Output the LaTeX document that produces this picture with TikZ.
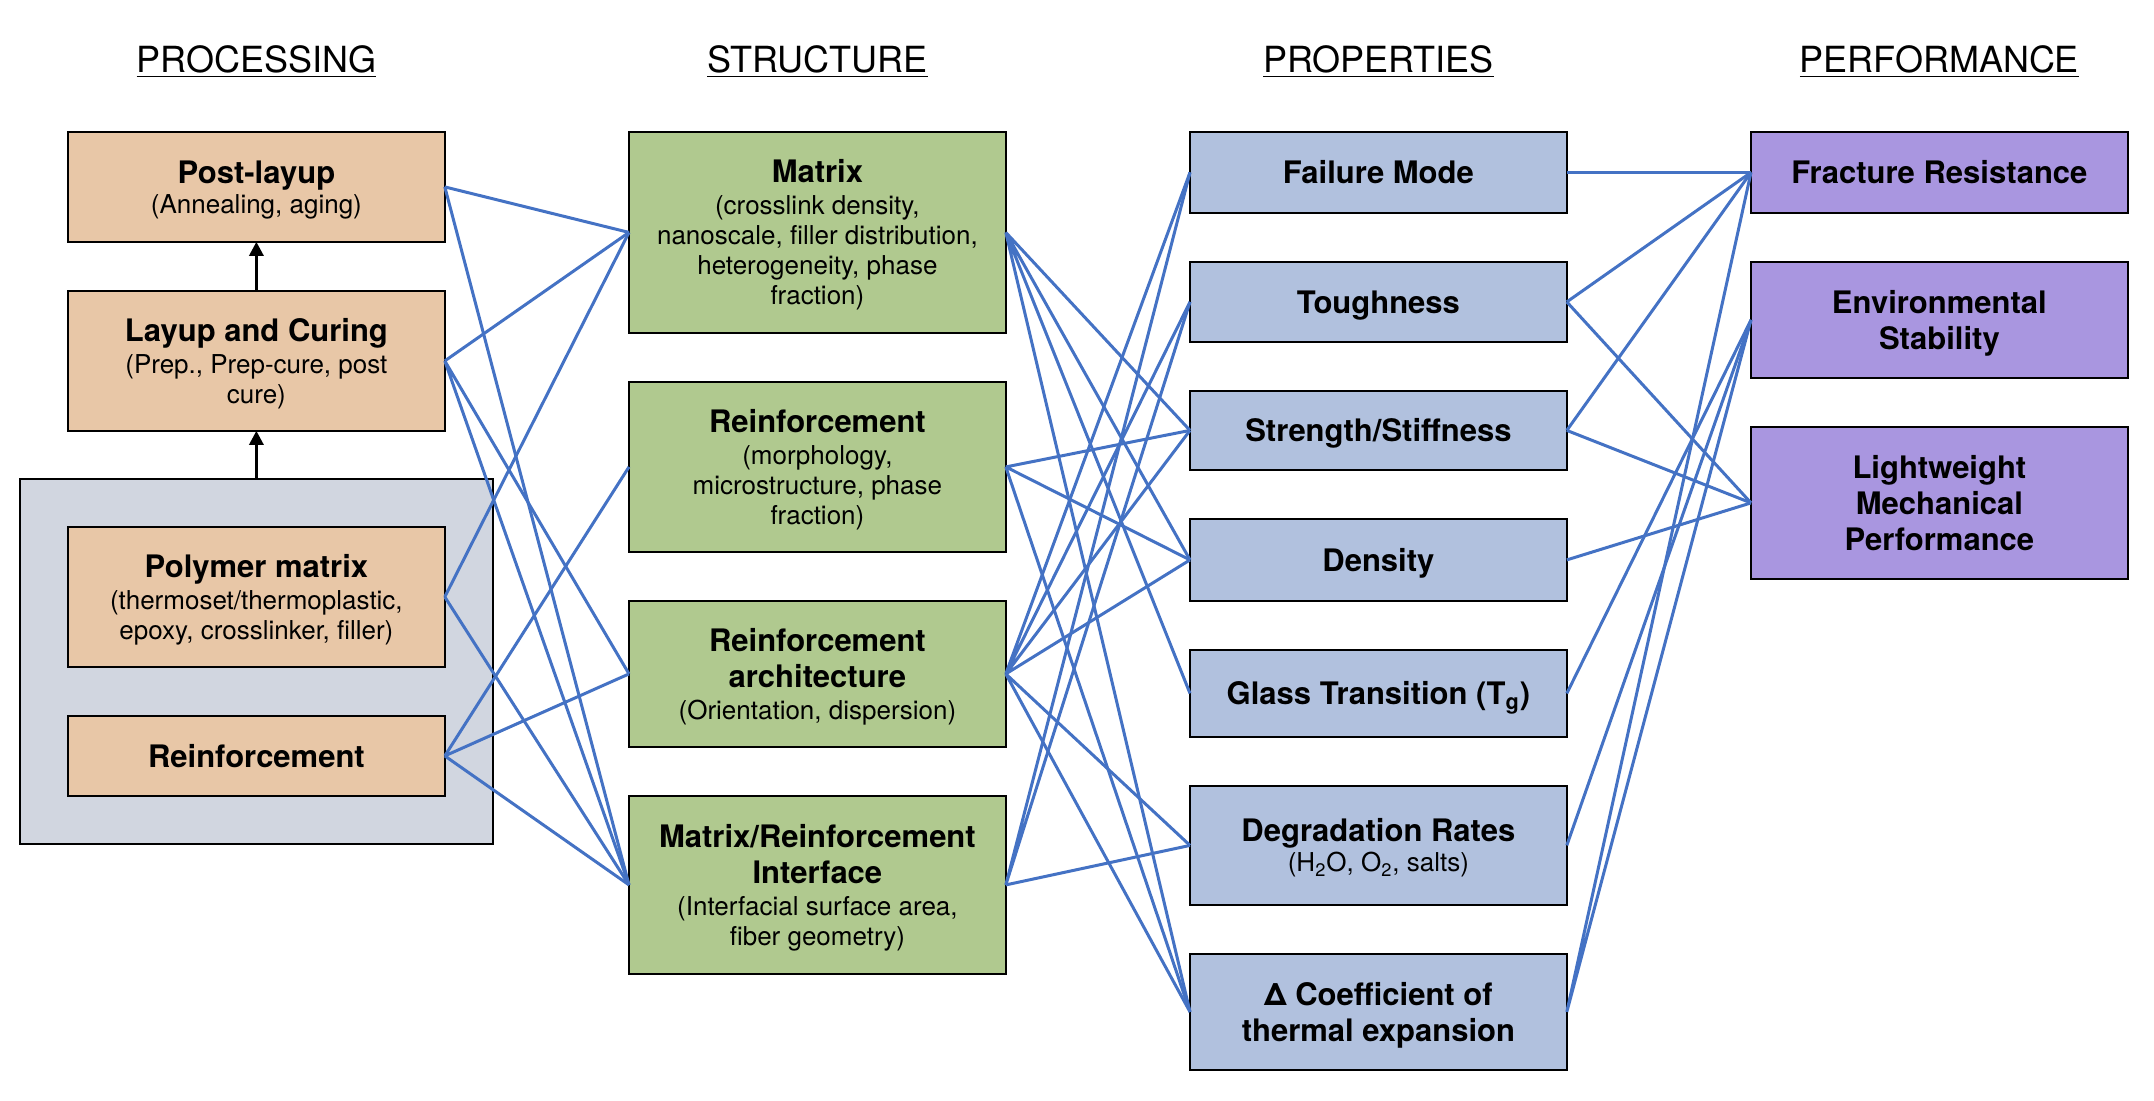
\documentclass[tikz,border=0pt]{standalone}
\usepackage{fontspec}
\setmainfont{TeX Gyre Heros}
\usetikzlibrary{positioning,fit,backgrounds,arrows.meta}

\definecolor{procfill}{RGB}{232,199,167}
\definecolor{structfill}{RGB}{176,201,143}
\definecolor{propfill}{RGB}{177,193,222}
\definecolor{perffill}{RGB}{169,150,224}
\definecolor{groupfill}{RGB}{209,214,224}
\definecolor{linkblue}{RGB}{68,114,196}

\newcommand{\boxtitle}[1]{{\fontsize{15.5}{17}\selectfont\bfseries #1}}

\begin{document}
\begin{tikzpicture}[node distance=24.6pt and 92.1pt,
  box/.style={draw, rectangle, line width=1.1pt, outer sep=0pt, minimum width=188.4pt, align=center, inner sep=3pt, text depth=0pt, font=\fontsize{13}{15}\selectfont},
  proc/.style={box, fill=procfill},
  struct/.style={box, fill=structfill},
  prop/.style={box, fill=propfill},
  perf/.style={box, fill=perffill},
  head/.style={inner sep=0pt, font=\fontsize{18}{20}\selectfont},
  link/.style={draw=linkblue, line width=1.5pt},
  up/.style={-{Triangle[length=7pt,width=7pt]}, line width=1.5pt}]
  \useasboundingbox (0,0) rectangle (1077pt,-550pt);

  \node (PL) [proc, minimum height=54.9pt, anchor=north west] at (34pt,-66pt) {\boxtitle{Post-layup}\\(Annealing, aging)};
  \node (LC) [proc, minimum height=69.9pt, below=of PL] {\boxtitle{Layup and Curing}\\[1pt](Prep., Prep-cure, post\\cure)};
  \node (PM) [proc, minimum height=69.9pt, below=48.1pt of LC] {\boxtitle{Polymer matrix}\\[1pt](thermoset/thermoplastic,\\epoxy, crosslinker, filler)};
  \node (RP) [proc, minimum height=39.9pt, below=of PM] {\boxtitle{Reinforcement}};
  \begin{scope}[on background layer]
    \node (MAT) [draw, line width=1.1pt, outer sep=0pt, fill=groupfill, inner sep=24pt, fit=(PM)(RP)] {};
  \end{scope}

  \node (SM) [struct, minimum height=100.4pt, right=of PL.north east, anchor=north west] {\boxtitle{Matrix}\\[1pt](crosslink density,\\nanoscale, filler distribution,\\heterogeneity, phase\\fraction)};
  \node (SR) [struct, minimum height=84.9pt, below=of SM] {\boxtitle{Reinforcement}\\[1pt](morphology,\\microstructure, phase\\fraction)};
  \node (SA) [struct, minimum height=72.9pt, below=of SR] {\boxtitle{Reinforcement}\\[3pt]\boxtitle{architecture}\\[1pt](Orientation, dispersion)};
  \node (SI) [struct, minimum height=88.9pt, below=of SA] {\boxtitle{Matrix/Reinforcement}\\[3pt]\boxtitle{Interface}\\[1pt](Interfacial surface area,\\fiber geometry)};

  \node (FM) [prop, minimum height=40.4pt, right=of SM.north east, anchor=north west] {\boxtitle{Failure Mode}};
  \node (TO) [prop, minimum height=39.9pt, below=of FM] {\boxtitle{Toughness}};
  \node (SS) [prop, minimum height=39.4pt, below=of TO] {\boxtitle{Strength/Stiffness}};
  \node (DE) [prop, minimum height=40.9pt, below=of SS] {\boxtitle{Density}};
  \node (GT) [prop, minimum height=43.4pt, below=of DE] {\boxtitle{Glass Transition (T\textsubscript{g})}};
  \node (DR) [prop, minimum height=59.4pt, below=of GT] {\boxtitle{Degradation Rates}\\(H\textsubscript{2}O, O\textsubscript{2}, salts)};
  \node (CT) [prop, minimum height=57.9pt, below=of DR] {\boxtitle{Δ Coefficient of}\\[3pt]\boxtitle{thermal expansion}};

  \node (FR) [perf, minimum height=40.4pt, right=of FM.north east, anchor=north west] {\boxtitle{Fracture Resistance}};
  \node (ES) [perf, minimum height=57.9pt, below=of FR] {\boxtitle{Environmental}\\[3pt]\boxtitle{Stability}};
  \node (LW) [perf, minimum height=75.9pt, below=of ES] {\boxtitle{Lightweight}\\[3pt]\boxtitle{Mechanical}\\[3pt]\boxtitle{Performance}};

  \node (HP) [head, above=27pt of PL] {\underline{PROCESSING}};
  \node (HS) [head, above=27pt of SM] {\underline{STRUCTURE}};
  \node (HR) [head, above=27pt of FM] {\underline{PROPERTIES}};
  \node (HF) [head, above=27pt of FR] {\underline{PERFORMANCE}};

  \draw[up] (MAT.north) -- (LC.south);
  \draw[up] (LC.north) -- (PL.south);

  \draw[link] (PL.east) -- (SM.west) (PL.east) -- (SI.west);
  \draw[link] (LC.east) -- (SM.west) (LC.east) -- (SA.west) (LC.east) -- (SI.west);
  \draw[link] (PM.east) -- (SM.west) (PM.east) -- (SI.west);
  \draw[link] (RP.east) -- (SR.west) (RP.east) -- (SA.west) (RP.east) -- (SI.west);

  \draw[link] (SM.east) -- (SS.west) (SM.east) -- (DE.west) (SM.east) -- (GT.west) (SM.east) -- (CT.west);
  \draw[link] (SR.east) -- (SS.west) (SR.east) -- (DE.west) (SR.east) -- (CT.west);
  \draw[link] (SA.east) -- (FM.west) (SA.east) -- (TO.west) (SA.east) -- (SS.west)
              (SA.east) -- (DE.west) (SA.east) -- (DR.west) (SA.east) -- (CT.west);
  \draw[link] (SI.east) -- (FM.west) (SI.east) -- (TO.west) (SI.east) -- (DR.west);

  \draw[link] (FM.east) -- (FR.west);
  \draw[link] (TO.east) -- (FR.west) (TO.east) -- (LW.west);
  \draw[link] (SS.east) -- (FR.west) (SS.east) -- (LW.west);
  \draw[link] (DE.east) -- (LW.west);
  \draw[link] (GT.east) -- (ES.west);
  \draw[link] (DR.east) -- (ES.west);
  \draw[link] (CT.east) -- (FR.west) (CT.east) -- (ES.west);
\end{tikzpicture}
\end{document}
